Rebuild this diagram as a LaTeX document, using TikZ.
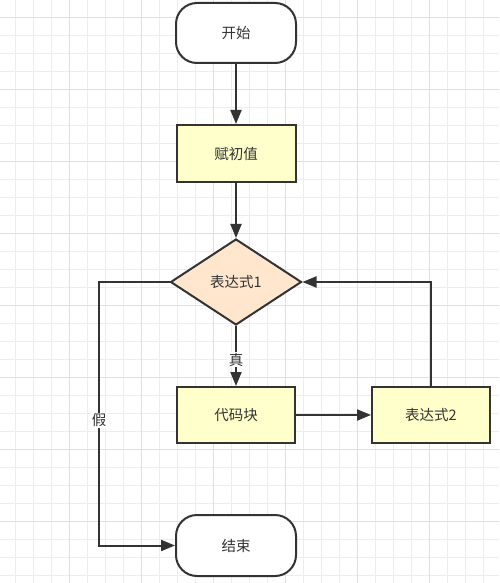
\documentclass[tikz,border=0pt]{standalone}
\usepackage{fontspec}
\newfontfamily\cjk{Noto Sans CJK SC}
\usetikzlibrary{shapes.geometric,arrows.meta}
\definecolor{stroke}{HTML}{333333}
\definecolor{txt}{HTML}{333333}
\definecolor{yfill}{HTML}{FFFFCC}
\definecolor{pfill}{HTML}{FFE6CC}
\definecolor{gridminor}{HTML}{EDEDED}
\definecolor{gridmajor}{HTML}{E0E0E0}
\tikzset{
  base/.style={draw=stroke, line width=2pt, text=txt, font=\cjk\fontsize{14.5pt}{16pt}\selectfont, inner sep=0pt},
  terminal/.style={base, fill=white, rounded corners=21pt, minimum width=120pt, minimum height=60pt},
  procbox/.style={base, fill=yfill, minimum width=118pt, minimum height=56pt},
  decision/.style={base, fill=pfill, diamond, aspect=1.52, minimum width=131pt, minimum height=86pt},
  conn/.style={draw=stroke, line width=2pt, -{Triangle[length=14pt,width=11pt]}},
  lbl/.style={fill=white, text=txt, font=\cjk\fontsize{14.5pt}{16pt}\selectfont, inner sep=1pt}
}
\begin{document}
\begin{tikzpicture}[x=1pt,y=-1pt]
\useasboundingbox (0,0) rectangle (499,583);
\fill[white] (0,0) rectangle (499,583);
% grid
\foreach \i in {0,...,27} {
  \pgfmathsetmacro{\xx}{15.3+18*\i}
  \draw[gridminor, line width=1pt] (\xx,0) -- (\xx,583);
}
\foreach \i in {0,...,32} {
  \pgfmathsetmacro{\yy}{-0.3+18*\i}
  \draw[gridminor, line width=1pt] (0,\yy) -- (499,\yy);
}
\foreach \i in {0,...,6} {
  \pgfmathsetmacro{\xx}{69.3+72*\i-72}
  \draw[gridmajor, line width=1pt] (\xx,0) -- (\xx,583);
}
\foreach \i in {0,...,7} {
  \pgfmathsetmacro{\yy}{17.7+72*\i}
  \draw[gridmajor, line width=1pt] (0,\yy) -- (499,\yy);
}
% nodes
\node[terminal] (start) at (236,33) {开始};
\node[procbox, minimum width=119pt, minimum height=57pt] (init) at (236,153.5) {赋初值};
\node[decision] (cond) at (236,282) {表达式1};
\node[procbox] (code) at (236,415) {代码块};
\node[procbox] (expr2) at (431,415) {表达式2};
\node[terminal, minimum height=61pt] (stop) at (236,545.5) {结束};
\coordinate (lt) at (99,282);
\coordinate (lb) at (99,545.5);
% connectors
\draw[conn] (start) -- (init);
\draw[conn] (init) -- (cond);
\draw[conn] (cond) -- node[lbl, pos=0.56] (t) {真} (code);
\draw[conn] (code) -- (expr2);
\draw[conn] (expr2.north) |- (cond.east);
\draw[conn] (cond.west) -- (lt) -- node[lbl, pos=0.525] (f) {假} (lb) -- (stop.west);
\end{tikzpicture}
\end{document}
